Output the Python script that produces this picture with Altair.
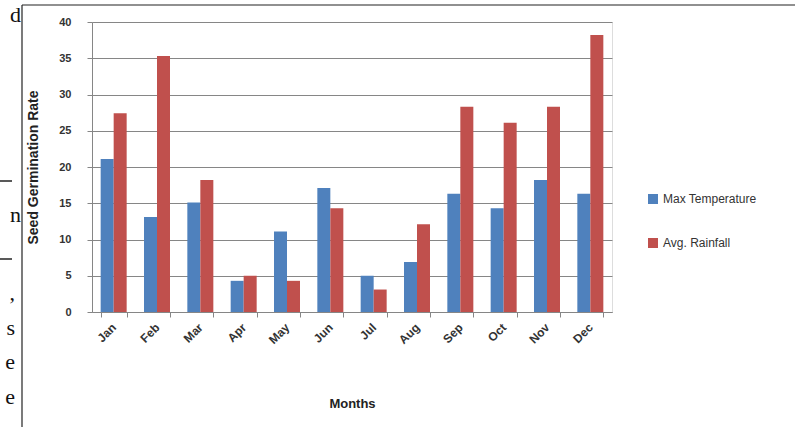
import altair as alt
import pandas as pd

months = ["Jan", "Feb", "Mar", "Apr", "May", "Jun", "Jul", "Aug", "Sep", "Oct", "Nov", "Dec"]
series_names = ["Max Temperature", "Avg. Rainfall"]
series_a = [21.1, 13.1, 15.1, 4.3, 11.1, 17.1, 5.0, 6.9, 16.3, 14.3, 18.2, 16.3]
series_b = [27.4, 35.3, 18.2, 5.0, 4.3, 14.3, 3.1, 12.1, 28.3, 26.1, 28.3, 38.2]
y_ticks = [0, 5, 10, 15, 20, 25, 30, 35, 40]
colors = ["#4F81BD", "#C0504D"]

rows = []
for m, a, b in zip(months, series_a, series_b):
    rows.append({"Month": m, "Series": series_names[0], "Value": a})
    rows.append({"Month": m, "Series": series_names[1], "Value": b})
df = pd.DataFrame(rows)

FONT = "Liberation Sans"

bars = alt.Chart(df).mark_bar(stroke=None).encode(
    x=alt.X(
        "Month:N",
        sort=months,
        scale=alt.Scale(paddingInner=0.4, paddingOuter=0.2),
        axis=alt.Axis(
            title="Months",
            labelAngle=-45,
            labelAlign="right",
            labelBaseline="middle",
            labelFontSize=12,
            labelFontWeight="bold",
            labelColor="#333333",
            labelFont=FONT,
            labelPadding=8,
            tickBand="extent",
            tickSize=5,
            tickColor="#868686",
            domainColor="#868686",
            titleFontSize=13,
            titleFontWeight="bold",
            titleFont=FONT,
            titleColor="#222222",
            titlePadding=58,
            titleBaseline="middle",
            grid=False,
        ),
    ),
    xOffset=alt.XOffset("Series:N", sort=series_names),
    y=alt.Y(
        "Value:Q",
        scale=alt.Scale(domain=[0, 40], nice=False),
        axis=alt.Axis(
            title="Seed Germination Rate",
            values=y_ticks,
            labelFontSize=11,
            labelFontWeight="bold",
            labelColor="#333333",
            labelFont=FONT,
            labelPadding=16,
            tickSize=5,
            tickColor="#868686",
            domainColor="#868686",
            gridColor="#868686",
            gridWidth=1,
            titleFontSize=14,
            titleFontWeight="bold",
            titleFont=FONT,
            titleColor="#222222",
            titlePadding=18,
        ),
    ),
    color=alt.Color(
        "Series:N",
        sort=series_names,
        scale=alt.Scale(domain=series_names, range=colors),
        legend=alt.Legend(
            title=None,
            orient="none",
            legendX=555,
            legendY=171,
            symbolType="square",
            symbolSize=100,
            symbolStrokeWidth=0,
            labelFontSize=12,
            labelFont=FONT,
            labelColor="#333333",
            rowPadding=32,
        ),
    ),
)

def txt(s, x, y, size=22):
    return alt.Chart(pd.DataFrame({"t": [s]})).mark_text(
        font="Liberation Serif", fontSize=size, align="right", baseline="alphabetic", color="#111111"
    ).encode(text="t:N", x=alt.value(x), y=alt.value(y))

frame_left = alt.Chart(pd.DataFrame({"a": [0]})).mark_rule(color="#222222", strokeWidth=1.2).encode(
    x=alt.value(-70), y=alt.value(-17), y2=alt.value(405)
)
frame_top = alt.Chart(pd.DataFrame({"a": [0]})).mark_rule(color="#222222", strokeWidth=1.2).encode(
    x=alt.value(-70), x2=alt.value(703), y=alt.value(-17)
)
dash1 = alt.Chart(pd.DataFrame({"a": [0]})).mark_rule(color="#222222", strokeWidth=1.5).encode(
    x=alt.value(-92), x2=alt.value(-80), y=alt.value(159)
)
dash2 = alt.Chart(pd.DataFrame({"a": [0]})).mark_rule(color="#222222", strokeWidth=1.5).encode(
    x=alt.value(-92), x2=alt.value(-80), y=alt.value(237)
)

chart = alt.layer(
    bars,
    frame_left,
    frame_top,
    dash1,
    dash2,
    txt("d", -71, 0),
    txt("n", -71, 200),
    txt(",", -77, 278),
    txt("s", -77, 313),
    txt("e", -77, 347),
    txt("e", -77, 382),
).properties(
    width=520,
    height=290,
    autosize=alt.AutoSizeParams(type="none"),
    padding={"left": 92, "top": 22, "right": 183, "bottom": 115},
).configure_view(stroke=None).configure(background="white")

chart.save("out.html", embed_options={"renderer": "svg", "actions": False})
